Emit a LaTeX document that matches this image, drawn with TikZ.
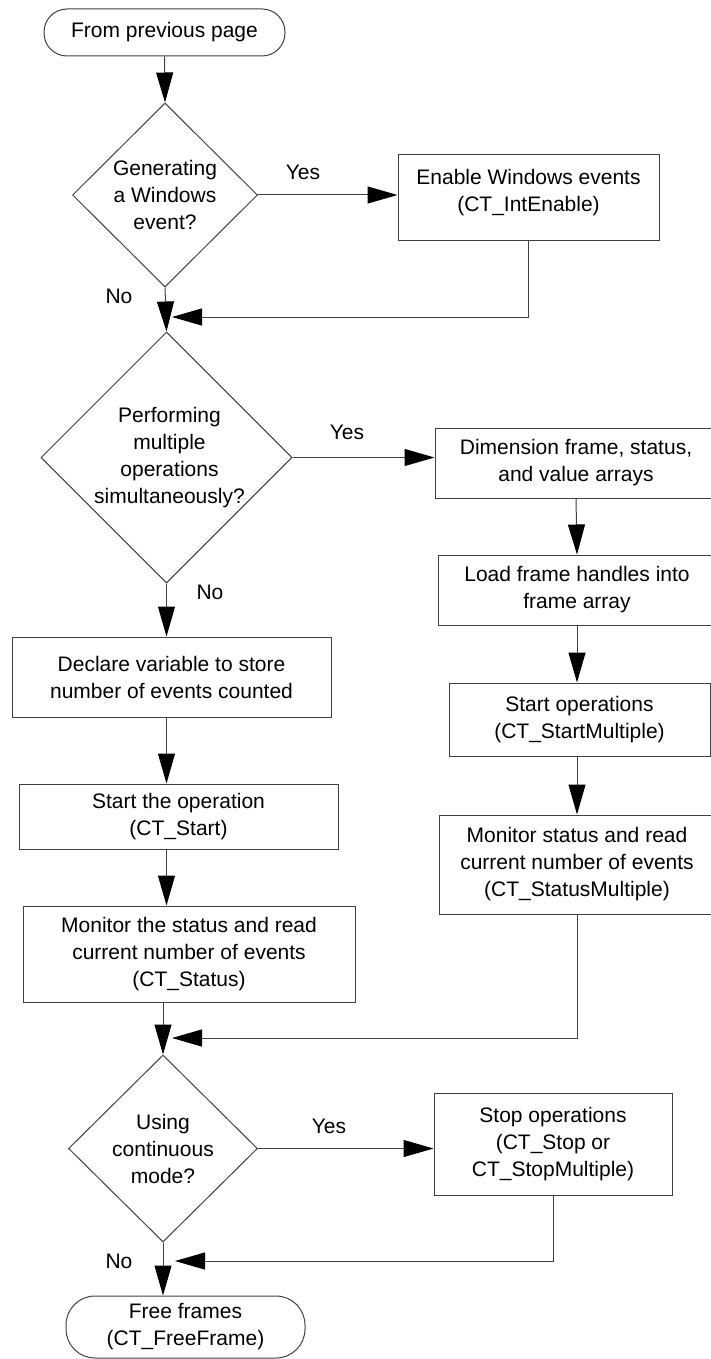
\documentclass[tikz,border=0pt]{standalone}
\usepackage{fontspec}
\setmainfont{Liberation Sans}
\usetikzlibrary{shapes.geometric,arrows.meta}

\tikzset{
  base/.style={draw=black!75, line width=1pt, inner sep=0pt, align=center,
               font=\fontsize{21}{27}\selectfont},
  stepbox/.style={base, rectangle},
  term/.style={base, rectangle, rounded corners=#1},
  decision/.style={base, diamond},
  lbl/.style={font=\fontsize{21}{27}\selectfont, inner sep=0pt},
  flow/.style={draw=black!75, line width=1pt,
               -{Triangle[length=30pt,width=17pt,color=black,fill=black]}},
  wire/.style={draw=black!75, line width=1pt}
}

\begin{document}
\begin{tikzpicture}[x=1pt, y=-1pt]
\clip (0,0) rectangle (711,1359);

% left column
\node[term=23pt, minimum width=241pt, minimum height=47pt] (t1) at (164.5,32.5) {From previous page};
\node[decision, minimum width=185pt, minimum height=184pt,
      label={[lbl, align=center]center:Generating\\a Windows\\event?}] (d1) at (165,195) {};
\node[decision, minimum width=251pt, minimum height=251pt,
      label={[lbl, align=center, xshift=3pt]center:Performing\\multiple\\operations\\simultaneously?}] (d2) at (166.5,457.5) {};
\node[stepbox, minimum width=319pt, minimum height=80pt] (b6) at (171.5,677) {Declare variable to store\\number of events counted};
\node[stepbox, minimum width=319pt, minimum height=65pt] (b7) at (178.5,816.5) {Start the operation\\(CT\_Start)};
\node[stepbox, minimum width=332pt, minimum height=96pt] (b8) at (189,954) {Monitor the status and read\\current number of events\\(CT\_Status)};
\node[decision, minimum width=189pt, minimum height=187pt,
      label={[lbl, align=center]center:Using\\continuous\\mode?}] (d3) at (163,1148.5) {};
\node[term=29pt, minimum width=239pt, minimum height=62pt] (t2) at (185.5,1327) {Free frames\\(CT\_FreeFrame)};

% right column
\node[stepbox, minimum width=261pt, minimum height=85pt,
      label={[lbl, align=center, yshift=5pt]center:Enable Windows events\\(CT\_IntEnable)}] (b1) at (528.5,197.5) {};
\node[stepbox, minimum width=282pt, minimum height=70pt] (b2) at (576,463) {Dimension frame, status,\\and value arrays};
\node[stepbox, minimum width=278pt, minimum height=70pt] (b3) at (577,590) {Load frame handles into\\frame array};
\node[stepbox, minimum width=261pt, minimum height=73pt] (b4) at (579.5,719.5) {Start operations\\(CT\_StartMultiple)};
\node[stepbox, minimum width=276pt, minimum height=99pt] (b5) at (577,864.5) {Monitor status and read\\current number of events\\(CT\_StatusMultiple)};
\node[stepbox, minimum width=238pt, minimum height=102pt] (b9) at (553,1144) {Stop operations\\(CT\_Stop or\\CT\_StopMultiple)};

% branch labels
\node[lbl] (y1) at (303,172) {Yes};
\node[lbl] (n1) at (119,296) {No};
\node[lbl] (y2) at (347,432) {Yes};
\node[lbl] (n2) at (210,592) {No};
\node[lbl] (y3) at (329,1126) {Yes};
\node[lbl] (n3) at (119,1261) {No};

% merge points
\coordinate (m1) at (172,317);
\coordinate (m2) at (172,1038);
\coordinate (m3) at (175,1261);

% connectors
\draw[flow] (t1.south) -- (d1.north);
\draw[flow] (d1.east) -- (d1.east -| b1.west);
\draw[flow] (b1.south) |- (m1);
\draw[flow] (d1.south) -- (d2.north);
\draw[flow] (d2.east) -- (d2.east -| b2.west);
\draw[flow] (b2.south) -- (b3.north);
\draw[flow] (b3.south) -- (b4.north -| b3.south);
\draw[flow] (b4.south -| b3.south) -- (b5.north -| b3.south);
\draw[flow] (b5.south -| b3.south) |- (m2);
\draw[flow] (d2.south) -- (d2.south |- b6.north);
\draw[flow] (b6.south -| d2.south) -- (b7.north -| d2.south);
\draw[flow] (b7.south -| d2.south) -- (b8.north -| d2.south);
\draw[flow] (b8.south -| d3.north) -- (d3.north);
\draw[flow] (d3.east) -- (d3.east -| b9.west);
\draw[flow] (b9.south) |- (m3);
\draw[flow] (d3.south) -- (d3.south |- t2.north);
\end{tikzpicture}
\end{document}
